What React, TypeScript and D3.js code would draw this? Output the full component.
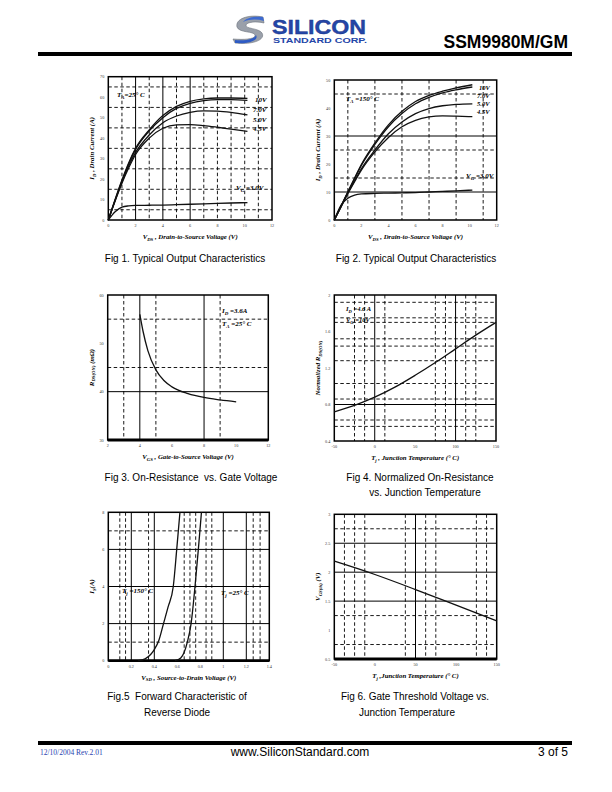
import React from 'react';
import * as d3 from 'd3';

// ---------- Fig 1 data (T_A = 25C) ----------
const fig1X = [0, 0.5, 1, 1.5, 2, 3, 4, 5, 6, 7, 8, 9, 10.2];
const fig1V10 = [0, 10, 19.5, 28, 35, 44, 51, 55.5, 58, 59.2, 59.6, 59.6, 59.4];
const fig1V7 = [0, 9.8, 19, 27.5, 34.5, 43.5, 50, 54.5, 57, 58.3, 58.8, 58.8, 58.4];
const fig1V5 = [0, 9.5, 18.5, 26.5, 33, 41.5, 47.5, 50.8, 52.6, 53.3, 53.2, 52.6, 51.3];
const fig1V45 = [0, 9.3, 18, 25.5, 32, 40, 44.8, 46.5, 46.6, 46.1, 45.3, 44.4, 43.3];
const fig1V3 = [0, 4, 6.3, 6.9, 7.1, 7.2, 7.3, 7.5, 7.7, 7.9, 8.1, 8.3, 8.5];
const fig1XTicks = [0, 2, 4, 6, 8, 10, 12];
const fig1YTicks = [0, 10, 20, 30, 40, 50, 60, 70];

// ---------- Fig 2 data (T_A = 150C) ----------
const fig2X = [0, 0.5, 1, 1.5, 2, 3, 4, 5, 6, 7, 8, 9, 10.2];
const fig2V10 = [0, 5, 10, 15, 19.8, 27.5, 34, 38.8, 42.3, 44.5, 46, 47.2, 48.3];
const fig2V7 = [0, 5, 10, 14.8, 19.5, 27, 33.3, 38, 41.5, 43.8, 45.4, 46.5, 47.5];
const fig2V5 = [0, 4.8, 9.6, 14, 18.3, 25, 30.8, 35, 38, 39.8, 40.8, 41.3, 41.5];
const fig2V45 = [0, 4.7, 9.4, 13.7, 17.8, 24.3, 29.5, 33.3, 35.6, 36.8, 37.2, 37.1, 36.9];
const fig2V3 = [0, 5.3, 7.8, 8.9, 9.3, 9.5, 9.6, 9.7, 9.8, 10, 10.2, 10.4, 10.7];
const fig2XTicks = [0, 2, 4, 6, 8, 10, 12];
const fig2YTicks = [0, 10, 20, 30, 40, 50];

// ---------- Fig 3 data ----------
const fig3X = [4, 4.2, 4.5, 5, 5.5, 6, 7, 8, 9, 10];
const fig3R = [56, 52.5, 48.5, 44.5, 42.3, 41, 39.6, 38.8, 38.3, 37.9];
const fig3XTicks = [2, 4, 6, 8, 10, 12];
const fig3YTicks = [30, 40, 50, 60];

// ---------- Fig 4 data ----------
const fig4T = [-50, -25, 0, 25, 50, 75, 100, 125, 150];
const fig4R = [0.72, 0.79, 0.88, 0.99, 1.12, 1.26, 1.41, 1.56, 1.7];
const fig4XTicks = [-50, 0, 50, 100, 150];
const fig4YTicks = [0.4, 0.8, 1.2, 1.6, 2.0];

// ---------- Fig 5 data ----------
const fig5V150 = [0.26, 0.32, 0.37, 0.4, 0.44, 0.48, 0.52, 0.565, 0.595, 0.623];
const fig5I150 = [0, 0.1, 0.35, 0.6, 1.1, 2.0, 2.9, 4.0, 6.0, 8.0];
const fig5V25 = [0.58, 0.63, 0.66, 0.687, 0.72, 0.754, 0.783, 0.81];
const fig5I25 = [0, 0.15, 0.45, 1.0, 2.0, 4.0, 6.0, 8.0];
const fig5XTicks = [0, 0.2, 0.4, 0.6, 0.8, 1, 1.2, 1.4];
const fig5YTicks = [0, 2, 4, 6, 8];

// ---------- Fig 6 data ----------
const fig6T = [-50, 0, 50, 100, 150];
const fig6V = [2.19, 1.96, 1.7, 1.43, 1.16];
const fig6XTicks = [-50, 0, 50, 100, 150];
const fig6YTicks = [0.5, 1, 1.5, 2, 2.5, 3];

const SERIF = '"Liberation Serif", "Times New Roman", serif';
const SANS = '"Liberation Sans", Arial, sans-serif';

type Series = { x: number[]; y: number[] };
type Label = { x: number; y: number; parts: [string, string, string]; size?: number };

interface ChartProps {
  left: number; top: number; right: number; bottom: number;
  xDomain: [number, number]; yDomain: [number, number];
  xTicks: number[]; yTicks: number[];
  vDash: number[]; vSolid: number[]; hDash: number[]; hSolid: number[];
  series: Series[];
  thickBottom?: boolean;
  xTitle: [string, string, string];
  yTitle: [string, string, string];
  labels: Label[];
}

const Sub = ({ parts, subSize = 0.7 }: { parts: [string, string, string]; subSize?: number }) => (
  <>
    <tspan>{parts[0]}</tspan>
    {parts[1] ? <tspan fontSize={`${subSize * 100}%`} dy={1.6}>{parts[1]}</tspan> : null}
    {parts[1] ? <tspan dy={-1.6}>{parts[2]}</tspan> : <tspan>{parts[2]}</tspan>}
  </>
);

const Chart = (p: ChartProps) => {
  const x = d3.scaleLinear().domain(p.xDomain).range([p.left, p.right]);
  const y = d3.scaleLinear().domain(p.yDomain).range([p.bottom, p.top]);
  const line = d3.line<[number, number]>().x(d => x(d[0])).y(d => y(d[1])).curve(d3.curveMonotoneX);
  return (
    <g>
      {p.vDash.map((v, i) => (
        <line key={'vd' + i} x1={x(v)} x2={x(v)} y1={p.top} y2={p.bottom} stroke="#000" strokeWidth={0.9} strokeDasharray="3.5,2.5" />
      ))}
      {p.hDash.map((v, i) => (
        <line key={'hd' + i} x1={p.left} x2={p.right} y1={y(v)} y2={y(v)} stroke="#000" strokeWidth={0.9} strokeDasharray="3.5,2.5" />
      ))}
      {p.vSolid.map((v, i) => (
        <line key={'vs' + i} x1={x(v)} x2={x(v)} y1={p.top} y2={p.bottom} stroke="#000" strokeWidth={1} />
      ))}
      {p.hSolid.map((v, i) => (
        <line key={'hs' + i} x1={p.left} x2={p.right} y1={y(v)} y2={y(v)} stroke="#000" strokeWidth={1} />
      ))}
      <rect x={p.left} y={p.top} width={p.right - p.left} height={p.bottom - p.top} fill="none" stroke="#000" strokeWidth={1.5} />
      {p.thickBottom ? <line x1={p.left} x2={p.right} y1={p.bottom} y2={p.bottom} stroke="#000" strokeWidth={2.8} /> : null}
      {p.series.map((s, i) => (
        <path key={'s' + i} d={line(s.x.map((v, j) => [v, s.y[j]] as [number, number])) || ''} fill="none" stroke="#111" strokeWidth={1.3} />
      ))}
      {p.xTicks.map((t, i) => (
        <text key={'xt' + i} x={x(t)} y={p.bottom + 7} fontSize={4.2} fontFamily={SERIF} textAnchor="middle" fill="#333">{t}</text>
      ))}
      {p.yTicks.map((t, i) => (
        <text key={'yt' + i} x={p.left - 4} y={y(t) + 1.5} fontSize={4.2} fontFamily={SERIF} textAnchor="end" fill="#333">{t}</text>
      ))}
      <text x={(p.left + p.right) / 2} y={p.bottom + 19} fontSize={6.8} fontFamily={SERIF} fontWeight="bold" fontStyle="italic" textAnchor="middle">
        <Sub parts={p.xTitle} />
      </text>
      <text transform={`translate(${p.left - 14},${(p.top + p.bottom) / 2}) rotate(-90)`} fontSize={6.8} fontFamily={SERIF} fontWeight="bold" fontStyle="italic" textAnchor="middle">
        <Sub parts={p.yTitle} />
      </text>
      {p.labels.map((l, i) => (
        <text key={'l' + i} x={l.x} y={l.y} fontSize={l.size || 7} fontFamily={SERIF} fontWeight="bold" fontStyle="italic">
          <Sub parts={l.parts} />
        </text>
      ))}
    </g>
  );
};

const Caption = ({ x, y, text }: { x: number; y: number; text: string }) => (
  <text x={x} y={y} fontSize={10} fontFamily={SANS} textAnchor="middle" style={{ whiteSpace: 'pre' }}>{text}</text>
);

export default function App() {
  return (
    <svg width={612} height={792} viewBox="0 0 612 792" style={{ position: 'absolute', left: 0, top: 0, background: '#fff' }}>
      <rect width={612} height={792} fill="#fff" />
      {/* Header logo */}
      <g>
        <path d="M263,17 C248,14 235,19 237,27 C239,33 254,31 255,35 C256,39 245,40 233,39 L235,43 C252,45 266,40 262,33 C259,28 245,29 246,25 C247,22 256,21 264,23 Z" fill="#9aa0aa" stroke="#6c727c" strokeWidth={0.6} />
        <path d="M235,40 C246,41 255,39 256,35 C259,40 250,44 235,43 Z" fill="#2e5bc4" />
        <path d="M263,17 C254,16 246,18 243,22 C250,19 257,19 264,21 Z" fill="#3d6ad0" />
        <text x={272} y={33.5} fontSize={21} fontFamily={SANS} fontWeight="bold" fill="#2446a8" stroke="#1b3585" strokeWidth={0.4} textLength={94} lengthAdjust="spacingAndGlyphs">SILICON</text>
        <text x={273} y={42.5} fontSize={6.5} fontFamily={SANS} fontWeight="bold" fill="#2446a8" textLength={94} lengthAdjust="spacingAndGlyphs">STANDARD CORP.</text>
      </g>
      <text x={568} y={48} fontSize={17.5} fontFamily={SANS} fontWeight="bold" textAnchor="end">SSM9980M/GM</text>
      <rect x={38} y={52} width={534} height={4} fill="#000" />

      {/* Fig 1 */}
      <Chart left={108.3} top={76.7} right={272} bottom={220}
        xDomain={[0, 12]} yDomain={[0, 70]} xTicks={fig1XTicks} yTicks={fig1YTicks}
        vDash={[1, 3, 5, 7, 8, 9, 10, 11]} vSolid={[2, 4, 6]} hDash={[5, 15, 25, 35, 45, 55, 65]} hSolid={[]}
        series={[
          { x: fig1X, y: fig1V10 }, { x: fig1X, y: fig1V7 }, { x: fig1X, y: fig1V5 },
          { x: fig1X, y: fig1V45 }, { x: fig1X, y: fig1V3 },
        ]}
        xTitle={['V', 'DS', ' , Drain-to-Source Voltage (V)']}
        yTitle={['I', 'D', ' , Drain Current (A)']}
        labels={[
          { x: 117, y: 97, parts: ['T', 'A', '=25° C'] },
          { x: 255, y: 102, parts: ['10V', '', ''] },
          { x: 253, y: 112, parts: ['7.0V', '', ''] },
          { x: 253, y: 122, parts: ['5.0V', '', ''] },
          { x: 253, y: 131, parts: ['4.5V', '', ''] },
          { x: 236, y: 190, parts: ['V', 'G', ' =3.0V'] },
        ]}
      />
      <Caption x={185} y={262} text="Fig 1. Typical Output Characteristics" />

      {/* Fig 2 */}
      <Chart left={334.3} top={80} right={496.7} bottom={220}
        xDomain={[0, 12]} yDomain={[0, 50]} xTicks={fig2XTicks} yTicks={fig2YTicks}
        vDash={[1, 3, 5, 7, 9, 11]} vSolid={[]} hDash={[15, 25, 45]} hSolid={[10, 30]}
        series={[
          { x: fig2X, y: fig2V10 }, { x: fig2X, y: fig2V7 }, { x: fig2X, y: fig2V5 },
          { x: fig2X, y: fig2V45 }, { x: fig2X, y: fig2V3 },
        ]}
        xTitle={['V', 'DS', ' , Drain-to-Source Voltage (V)']}
        yTitle={['I', 'D', ' , Drain Current (A)']}
        labels={[
          { x: 346, y: 101, parts: ['T', 'A', ' =150° C'] },
          { x: 479, y: 89.5, parts: ['10V', '', ''], size: 6.5 },
          { x: 477, y: 97.5, parts: ['7.0V', '', ''], size: 6.5 },
          { x: 477, y: 105.5, parts: ['5.0V', '', ''], size: 6.5 },
          { x: 477, y: 113.5, parts: ['4.5V', '', ''], size: 6.5 },
          { x: 466, y: 178, parts: ['V', 'G', ' =3.0V'] },
        ]}
      />
      <Caption x={416} y={262} text="Fig 2. Typical Output Characteristics" />

      {/* Fig 3 */}
      <Chart left={107.7} top={295} right={268.3} bottom={440}
        xDomain={[2, 12]} yDomain={[30, 60]} xTicks={fig3XTicks} yTicks={fig3YTicks}
        vDash={[3, 5, 9]} vSolid={[4, 8]} hDash={[45, 55]} hSolid={[40]}
        series={[{ x: fig3X, y: fig3R }]}
        thickBottom
        xTitle={['V', 'GS', ' , Gate-to-Source Voltage (V)']}
        yTitle={['R', 'DS(ON)', ' (mΩ)']}
        labels={[
          { x: 222, y: 313, parts: ['I', 'D', ' =3.6A'] },
          { x: 222, y: 326, parts: ['T', 'A', ' =25° C'] },
        ]}
      />
      <Caption x={191} y={481} text="Fig 3. On-Resistance  vs. Gate Voltage" />

      {/* Fig 4 */}
      <Chart left={334.3} top={295} right={496} bottom={441}
        xDomain={[-50, 150]} yDomain={[0.4, 2.0]} xTicks={fig4XTicks} yTicks={fig4YTicks}
        vDash={[-25, -12.5, 12.5, 75, 87.5, 112.5, 125]} vSolid={[0, 100]}
        hDash={[1.92, 1.75, 1.7, 1.52, 1.44, 1.28, 1.03, 0.86, 0.63, 0.56]} hSolid={[0.8]}
        series={[{ x: fig4T, y: fig4R }]}
        xTitle={['T', 'j', ' , Junction Temperature (° C)']}
        yTitle={['Normalized R', 'DS(ON)', '']}
        labels={[
          { x: 346, y: 311, parts: ['I', 'D', ' =4.6 A'], size: 6.5 },
          { x: 346, y: 322, parts: ['V', 'G', ' =10V'], size: 6.5 },
        ]}
      />
      <Caption x={420} y={481} text="Fig 4. Normalized On-Resistance" />
      <Caption x={425} y={496} text="vs. Junction Temperature" />

      {/* Fig 5 */}
      <Chart left={108.3} top={512.3} right={269.3} bottom={660.7}
        xDomain={[0, 1.4]} yDomain={[0, 8]} xTicks={fig5XTicks} yTicks={fig5YTicks}
        vDash={[0.1, 0.15, 0.35, 0.66, 0.71, 0.76, 0.85, 0.9, 1.26, 1.32]} vSolid={[0.2, 0.4, 1.0, 1.2]}
        hDash={[1, 7]} hSolid={[2, 4, 6]}
        series={[{ x: fig5V150, y: fig5I150 }, { x: fig5V25, y: fig5I25 }]}
        thickBottom
        xTitle={['V', 'SD', ' , Source-to-Drain Voltage (V)']}
        yTitle={['I', 'S', '(A)']}
        labels={[
          { x: 122, y: 593, parts: ['T', 'j', ' =150° C'] },
          { x: 221, y: 595, parts: ['T', 'j', ' =25° C'] },
        ]}
      />
      <Caption x={177} y={700} text="Fig.5  Forward Characteristic of" />
      <Caption x={177} y={716} text="Reverse Diode" />

      {/* Fig 6 */}
      <Chart left={334.3} top={514.3} right={496.7} bottom={659}
        xDomain={[-50, 150]} yDomain={[0.5, 3]} xTicks={fig6XTicks} yTicks={fig6YTicks}
        vDash={[-37.5, -25, -12.5, 37.5, 62.5, 75, 125, 137.5]} vSolid={[50]}
        hDash={[0.75, 1.25, 2.75]} hSolid={[1.5, 2, 2.5]}
        series={[{ x: fig6T, y: fig6V }]}
        thickBottom
        xTitle={['T', 'j', ' ,Junction Temperature (° C)']}
        yTitle={['V', 'GS(th)', ' (V)']}
        labels={[]}
      />
      <Caption x={415} y={700} text="Fig 6. Gate Threshold Voltage vs." />
      <Caption x={407} y={716} text="Junction Temperature" />

      {/* Footer */}
      <rect x={38} y={741} width={534} height={4} fill="#000" />
      <text x={40} y={755} fontSize={7.5} fontFamily={SERIF} fill="#2a3fb0">12/10/2004  Rev.2.01</text>
      <text x={300} y={756} fontSize={12} fontFamily={SANS} textAnchor="middle">www.SiliconStandard.com</text>
      <text x={568} y={756} fontSize={12} fontFamily={SANS} textAnchor="end">3 of 5</text>
    </svg>
  );
}
